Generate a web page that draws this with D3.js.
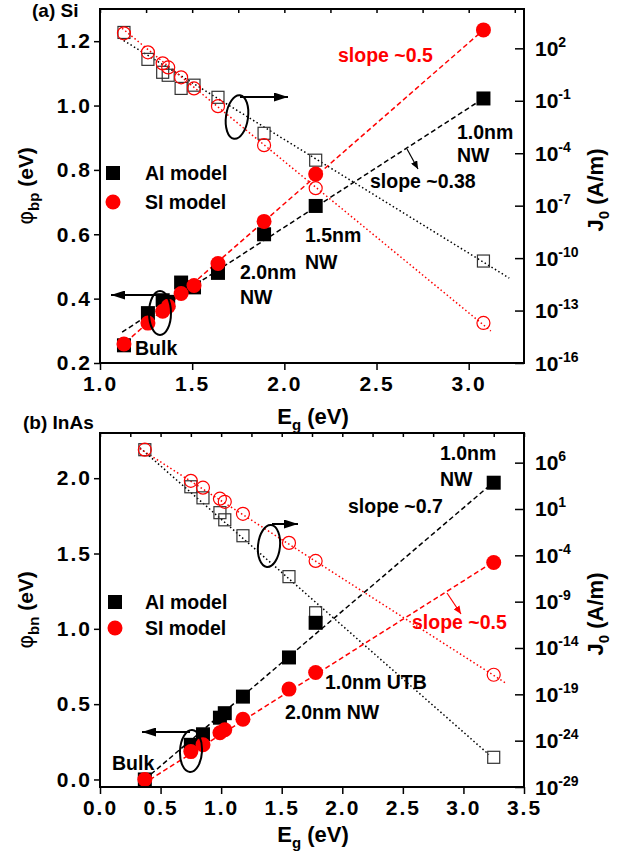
<!DOCTYPE html>
<html>
<head>
<meta charset="utf-8">
<script src="https://cdn.jsdelivr.net/npm/d3@7"></script>
<style>
body { margin: 0; background: #fff; }
text { font-family: "Liberation Sans", Arial, sans-serif; font-weight: bold; }
</style>
</head>
<body>
<div id="chart"></div>
<script>
// (a) Si nanowires
var siEg      = [1.13, 1.26, 1.34, 1.37, 1.44, 1.51, 1.64, 1.89, 2.17, 3.08];
var siPhiAI   = [0.255, 0.355, 0.395, 0.39, 0.45, 0.435, 0.48, 0.60, 0.688, 1.022];
var siPhiSI   = [0.259, 0.324, 0.361, 0.376, 0.416, 0.441, 0.509, 0.64, 0.787, 1.235];
var siJ0AI    = [8.1e2, 23.4, 4.27, 2.88, 0.51, 0.78, 0.158, 1.38e-3, 4.0e-5, 6.8e-11];
var siJ0SI    = [7.2e2, 58.9, 13.8, 8.1, 2.19, 0.51, 0.049, 2.9e-4, 1.0e-6, 1.95e-14];
// fitted lines, [Eg, value] end points
var siFitAI   = [[1.12, 0.296], [3.08, 1.022]];
var siFitSI   = [[1.14, 0.265], [3.08, 1.235]];
var siFitJ0AI = [[1.11, 3.7e2], [3.22, 7.2e-12]];
var siFitJ0SI = [[1.12, 1.4e3], [3.12, 6.8e-15]];

// (b) InAs
var inasEg      = [0.37, 0.75, 0.85, 0.99, 1.03, 1.18, 1.56, 1.78, 3.25];
var inasPhiAI   = [0.0, 0.23, 0.30, 0.41, 0.44, 0.55, 0.81, 1.04, 1.97];
var inasPhiSI   = [0.0, 0.185, 0.23, 0.31, 0.33, 0.40, 0.60, 0.71, 1.44];
var inasJ0AI    = [2.5e7, 2.5e3, 1.6e2, 4.0, 0.68, 1.3e-2, 5.0e-7, 6.3e-11, 1.6e-26];
var inasJ0SI    = [2.5e7, 1.1e4, 2.0e3, 1.3e2, 60, 3.0, 2.2e-3, 2.5e-5, 1.3e-17];
var inasFitAI   = [[0.37, 0.0], [3.2, 1.94]];
var inasFitSI   = [[0.355, -0.03], [3.18, 1.41]];
var inasFitJ0AI = [[0.33, 4e7], [3.21, 3.2e-26]];
var inasFitJ0SI = [[0.33, 3.2e7], [3.35, 1.6e-18]];

// axis ticks
var siXTicks    = [1.0, 1.5, 2.0, 2.5, 3.0];
var siYTicks    = [0.2, 0.4, 0.6, 0.8, 1.0, 1.2];
var siJExp      = [-16, -13, -10, -7, -4, -1, 2];
var inasXTicks  = [0.0, 0.5, 1.0, 1.5, 2.0, 2.5, 3.0, 3.5];
var inasYTicks  = [0.0, 0.5, 1.0, 1.5, 2.0];
var inasJExp    = [-29, -24, -19, -14, -9, -4, 1, 6];

var w = 636, h = 856;
var svg = d3.select("#chart").append("svg").attr("width", w).attr("height", h);

var defs = svg.append("defs");
function arrowHead(id, color, len, wid) {
  defs.append("marker").attr("id", id)
    .attr("viewBox", "0 0 10 10").attr("refX", 10).attr("refY", 5)
    .attr("markerWidth", len).attr("markerHeight", wid)
    .attr("markerUnits", "userSpaceOnUse").attr("orient", "auto")
    .attr("preserveAspectRatio", "none")
    .append("path").attr("d", "M0,0L10,5L0,10z").attr("fill", color);
}
arrowHead("ahBig", "black", 14, 9);
arrowHead("ahSmallK", "black", 8, 7);
arrowHead("ahSmallR", "red", 8, 7);

function drawPanel(p) {
  var g = svg.append("g");
  var x = d3.scaleLinear().domain(p.xDomain).range([100, 524]);
  var yL = d3.scaleLinear().domain(p.yDomain).range([p.bottom, p.top]);
  var yR = d3.scaleLog().domain(p.jDomain).range([p.bottom, p.top]);

  var lineL = d3.line().x(d => x(d[0])).y(d => yL(d[1]));
  var lineR = d3.line().x(d => x(d[0])).y(d => yR(d[1]));

  // fitted lines
  g.append("path").datum(p.fitJ0AI).attr("d", lineR).attr("fill", "none")
    .attr("stroke", "black").attr("stroke-width", 1.5).attr("stroke-dasharray", "1.5,2.5");
  g.append("path").datum(p.fitJ0SI).attr("d", lineR).attr("fill", "none")
    .attr("stroke", "red").attr("stroke-width", 1.5).attr("stroke-dasharray", "1.5,2.5");
  g.append("path").datum(p.fitAI).attr("d", lineL).attr("fill", "none")
    .attr("stroke", "black").attr("stroke-width", 1.5).attr("stroke-dasharray", "5,3");
  g.append("path").datum(p.fitSI).attr("d", lineL).attr("fill", "none")
    .attr("stroke", "red").attr("stroke-width", 1.5).attr("stroke-dasharray", "5,3");

  // hollow markers (J0, right axis)
  g.selectAll(".hsq").data(p.eg).join("rect").attr("class", "hsq")
    .attr("x", (d, i) => x(d) - 6).attr("y", (d, i) => yR(p.j0AI[i]) - 6)
    .attr("width", 12).attr("height", 12)
    .attr("fill", "none").attr("stroke", "#333").attr("stroke-width", 1.2);
  g.selectAll(".hci").data(p.eg).join("circle").attr("class", "hci")
    .attr("cx", d => x(d)).attr("cy", (d, i) => yR(p.j0SI[i])).attr("r", 6.5)
    .attr("fill", "none").attr("stroke", "red").attr("stroke-width", 1.2);

  // filled markers (phi, left axis)
  g.selectAll(".fsq").data(p.eg).join("rect").attr("class", "fsq")
    .attr("x", d => x(d) - 7).attr("y", (d, i) => yL(p.phiAI[i]) - 7)
    .attr("width", 14).attr("height", 14).attr("fill", "black");
  g.selectAll(".fci").data(p.eg).join("circle").attr("class", "fci")
    .attr("cx", d => x(d)).attr("cy", (d, i) => yL(p.phiSI[i])).attr("r", 7.5)
    .attr("fill", "red");

  // axes
  var minorX = d3.range(p.xDomain[0], p.xDomain[1] + 1e-9, 0.25);
  var bx = g.append("g").attr("transform", "translate(0," + p.bottom + ")");
  bx.call(d3.axisBottom(x).tickValues(minorX).tickSize(4).tickFormat(""));
  bx.call(d3.axisBottom(x).tickValues(p.xTicks).tickSize(7).tickPadding(6).tickFormat(d3.format(".1f")));
  g.append("g").attr("transform", "translate(0," + p.top + ")")
    .call(d3.axisTop(x).tickValues(minorX).tickSize(-4).tickFormat(""));

  var minorY = d3.range(p.yTicks[0] - p.yStep, p.yDomain[1], p.yStep / 2)
    .filter(v => v >= p.yDomain[0] - 1e-9);
  var ly = g.append("g").attr("transform", "translate(100,0)");
  ly.call(d3.axisLeft(yL).tickValues(minorY).tickSize(3).tickFormat(""));
  ly.call(d3.axisLeft(yL).tickValues(p.yTicks).tickSize(6).tickPadding(4).tickFormat(d3.format(".1f")));

  var lo = p.jExp[0], step = p.jExp[1] - p.jExp[0];
  var minorJ = [];
  for (var e = lo; e <= Math.log10(p.jDomain[1]); e += step / 10) minorJ.push(Math.pow(10, e));
  var ry = g.append("g").attr("transform", "translate(524,0)");
  ry.call(d3.axisRight(yR).tickValues(minorJ).tickSize(-5).tickFormat(""));
  ry.call(d3.axisRight(yR).tickValues(p.jExp.map(e => Math.pow(10, e))).tickSize(-9).tickFormat(""));

  g.selectAll(".domain").remove();
  g.selectAll(".tick line").attr("stroke", "black").attr("stroke-width", 1.5);
  g.selectAll(".tick text").attr("font-size", 21).attr("fill", "black")
    .style("font-family", "'Liberation Sans', Arial, sans-serif").style("font-weight", "bold")
    .attr("letter-spacing", 2);
  ly.selectAll(".tick text").attr("dx", 2);

  // right axis labels, 10^n
  var rl = g.append("g");
  p.jExp.forEach(function(e) {
    var t = rl.append("text").attr("x", 535).attr("y", yR(Math.pow(10, e)) + 7.5)
      .attr("font-size", 21);
    t.append("tspan").text("10");
    t.append("tspan").attr("dy", -9).attr("font-size", 14).text(e);
  });

  // frame
  g.append("rect").attr("x", 100).attr("y", p.top).attr("width", 424).attr("height", p.bottom - p.top)
    .attr("fill", "none").attr("stroke", "black").attr("stroke-width", 2);

  // axis titles
  var mid = (p.top + p.bottom) / 2;
  var lt = g.append("text").attr("transform", "translate(33," + mid + ") rotate(-90)")
    .attr("text-anchor", "middle").attr("font-size", 21);
  lt.append("tspan").style("font-weight", "normal").style("font-family", "'DejaVu Sans', sans-serif").text("\u03c6");
  lt.append("tspan").attr("dy", 6).attr("font-size", 15).text(p.phiSub);
  lt.append("tspan").attr("dy", -6).text(" (eV)");

  var rt = g.append("text").attr("transform", "translate(603," + (mid + 4) + ") rotate(-90)")
    .attr("text-anchor", "middle").attr("font-size", 22);
  rt.append("tspan").text("J");
  rt.append("tspan").attr("dy", 6).attr("font-size", 15).text("0");
  rt.append("tspan").attr("dy", -6).text(" (A/m)");

  var bt = g.append("text").attr("x", 313).attr("y", p.bottom + p.titleGap)
    .attr("text-anchor", "middle").attr("font-size", 22);
  bt.append("tspan").text("E");
  bt.append("tspan").attr("dy", 6).attr("font-size", 15).text("g");
  bt.append("tspan").attr("dy", -6).text(" (eV)");

  // legend
  g.append("rect").attr("x", p.legX - 7).attr("y", p.legY - 7).attr("width", 14).attr("height", 14).attr("fill", "black");
  g.append("circle").attr("cx", p.legX).attr("cy", p.legY + p.legGap).attr("r", 7.5).attr("fill", "red");
  g.append("text").attr("x", 145).attr("y", p.legY + 7).attr("font-size", 19.5).text("AI model");
  g.append("text").attr("x", 145).attr("y", p.legY + p.legGap + 7).attr("font-size", 19.5).text("SI model");

  // annotations
  p.notes.forEach(function(n) {
    g.append("text").attr("x", n[0]).attr("y", n[1]).attr("font-size", n[3] || 19.5)
      .attr("fill", n[4] || "black").text(n[2]);
  });
  p.ellipses.forEach(function(el) {
    g.append("ellipse").attr("transform", "translate(" + el[0] + "," + el[1] + ") rotate(" + el[4] + ")")
      .attr("rx", el[2]).attr("ry", el[3]).attr("fill", "none").attr("stroke", "black").attr("stroke-width", 2);
  });
  p.arrows.forEach(function(a) {
    g.append("line").attr("x1", a[0]).attr("y1", a[1]).attr("x2", a[2]).attr("y2", a[3])
      .attr("stroke", a[5] || "black").attr("stroke-width", a[6] || 2)
      .attr("marker-end", "url(#" + a[4] + ")");
  });
}

drawPanel({
  xDomain: [1.0, 3.3], yDomain: [0.2, 1.3], jDomain: [1e-16, Math.pow(10, 4.25)],
  top: 9, bottom: 363, titleGap: 61,
  xTicks: siXTicks, yTicks: siYTicks, yStep: 0.2, jExp: siJExp,
  eg: siEg, phiAI: siPhiAI, phiSI: siPhiSI, j0AI: siJ0AI, j0SI: siJ0SI,
  fitAI: siFitAI, fitSI: siFitSI, fitJ0AI: siFitJ0AI, fitJ0SI: siFitJ0SI,
  phiSub: "bp", legX: 113, legY: 173, legGap: 29,
  notes: [
    [32, 17, "(a) Si", 19],
    [135, 355, "Bulk"],
    [240, 279, "2.0nm"], [240, 304, "NW"],
    [305, 242, "1.5nm"], [305, 269, "NW"],
    [457, 139, "1.0nm"], [457, 162, "NW"],
    [370, 188, "slope ~0.38"],
    [338, 62, "slope ~0.5", 19.5, "red"]
  ],
  ellipses: [[237, 117, 11, 22, 8], [160, 313, 11, 22, 0]],
  arrows: [
    [240, 97, 288, 97, "ahBig"],
    [165, 295, 111, 295, "ahBig"],
    [407, 149, 418, 169, "ahSmallK", "black", 1.2]
  ]
});

drawPanel({
  xDomain: [0.0, 3.5], yDomain: [-0.05, 2.3], jDomain: [1e-29, Math.pow(10, 9.2)],
  top: 433, bottom: 787, titleGap: 55,
  xTicks: inasXTicks, yTicks: inasYTicks, yStep: 0.5, jExp: inasJExp,
  eg: inasEg, phiAI: inasPhiAI, phiSI: inasPhiSI, j0AI: inasJ0AI, j0SI: inasJ0SI,
  fitAI: inasFitAI, fitSI: inasFitSI, fitJ0AI: inasFitJ0AI, fitJ0SI: inasFitJ0SI,
  phiSub: "bn", legX: 115, legY: 602, legGap: 26,
  notes: [
    [23, 429, "(b) InAs", 19],
    [112, 770, "Bulk"],
    [440, 460, "1.0nm"], [440, 486, "NW"],
    [348, 513, "slope ~0.7"],
    [412, 629, "slope ~0.5", 19.5, "red"],
    [325, 689, "1.0nm UTB"],
    [285, 719, "2.0nm NW"]
  ],
  ellipses: [[269, 546, 11, 21, 6], [191, 751, 11, 21, 3]],
  arrows: [
    [272, 524, 298, 524, "ahBig"],
    [190, 732, 142, 732, "ahBig"],
    [447, 593, 461, 614, "ahSmallR", "red", 1.2]
  ]
});
</script>
</body>
</html>
